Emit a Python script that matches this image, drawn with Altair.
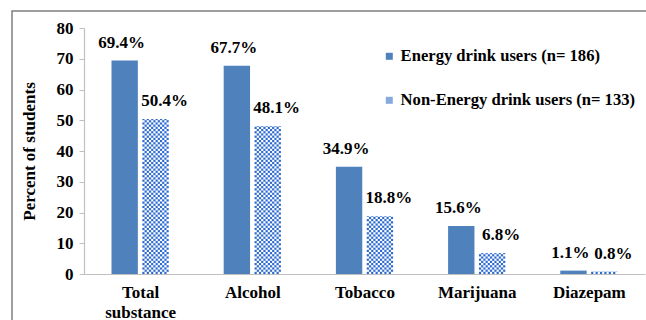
import math

import altair as alt
import pandas as pd

# ---- data -------------------------------------------------------------
categories = ["Total substance", "Alcohol", "Tobacco", "Marijuana", "Diazepam"]
energy_users = [69.4, 67.7, 34.9, 15.6, 1.1]
non_energy_users = [50.4, 48.1, 18.8, 6.8, 0.8]
series_names = ["Energy drink users (n= 186)", "Non-Energy drink users (n= 133)"]
y_ticks = [0, 10, 20, 30, 40, 50, 60, 70, 80]

# ---- layout / style ---------------------------------------------------
W, H = 561, 246
Y_MAX = 80
BLUE = "#4f81bd"
CHECK_BLUE = "#2c6ad0"
LEGEND_LIGHT = "#86a9e0"
AXIS_GREY = "#bfbfbf"
FONT = "Liberation Serif"
FS = 17
LEGEND_FS = 16.6

# each category occupies one unit on x; bar extents inside that unit
E_LO, E_HI = 0.245, 0.48
N_LO, N_HI = 0.52, 0.755
CHECK_COLS = 12

n = len(categories)

# ---- derived tables ---------------------------------------------------
energy_df = pd.DataFrame({
    "x0": [i + E_LO for i in range(n)],
    "x1": [i + E_HI for i in range(n)],
    "y0": [0.0] * n,
    "y1": energy_users,
})

# checkerboard cells for the non-energy bars
cell_w = (N_HI - N_LO) / CHECK_COLS
cell_px = cell_w * W / n
cell_h = cell_px * Y_MAX / H
cells = []
for i, v in enumerate(non_energy_users):
    rows = math.ceil(v / cell_h)
    for r in range(rows):
        for c in range(CHECK_COLS):
            if (r + c) % 2 == 0:
                cells.append({
                    "x0": i + N_LO + c * cell_w,
                    "x1": i + N_LO + (c + 1) * cell_w,
                    "y0": r * cell_h,
                    "y1": min((r + 1) * cell_h, v),
                })
cells_df = pd.DataFrame(cells)

energy_lbl = pd.DataFrame({
    "x0": [i + (E_LO + E_HI) / 2 for i in range(n)],
    "y1": energy_users,
    "txt": [f"{v:.1f}%" for v in energy_users],
})
non_lbl = pd.DataFrame({
    "x0": [i + (N_LO + N_HI) / 2 for i in range(n)],
    "y1": non_energy_users,
    "txt": [f"{v:.1f}%" for v in non_energy_users],
})

legend_df = pd.DataFrame({"series": series_names})

# x-axis labels: one (possibly multi-line) label per category slot
label_arrays = ",".join(
    "[" + ",".join(f"'{w}'" for w in name.split(" ")) + "]" for name in categories
)
label_expr = f"[{label_arrays}][floor(datum.value)]"


def x_enc(field="x0"):
    return alt.X(
        f"{field}:Q",
        scale=alt.Scale(domain=[0, n], nice=False, zero=False),
        axis=alt.Axis(
            values=[i + 0.5 for i in range(n)],
            labelExpr=label_expr,
            ticks=False,
            grid=False,
            title=None,
            domainColor=AXIS_GREY,
            domainWidth=1.2,
            labelFont=FONT,
            labelFontSize=FS,
            labelFontWeight="bold",
            labelColor="black",
            labelPadding=10,
            labelLineHeight=20,
            labelAngle=0,
        ),
    )


def y_enc(field="y0"):
    return alt.Y(
        f"{field}:Q",
        scale=alt.Scale(domain=[0, Y_MAX], nice=False),
        axis=alt.Axis(
            values=y_ticks,
            grid=False,
            title="Percent of students",
            titleFont=FONT,
            titleFontSize=FS,
            titleFontWeight="bold",
            titleColor="black",
            titlePadding=18,
            domainColor=AXIS_GREY,
            domainWidth=1.2,
            tickColor=AXIS_GREY,
            tickSize=5,
            labelFont=FONT,
            labelFontSize=FS,
            labelFontWeight="bold",
            labelColor="black",
            labelPadding=6,
        ),
    )


energy_bars = alt.Chart(energy_df).mark_rect(color=BLUE).encode(
    x=x_enc("x0"), x2="x1:Q", y=y_enc("y0"), y2="y1:Q"
)

checker = alt.Chart(cells_df).mark_rect(color=CHECK_BLUE).encode(
    x=x_enc("x0"), x2="x1:Q", y=y_enc("y0"), y2="y1:Q"
)

text_style = dict(
    font=FONT, fontSize=FS, fontWeight="bold", color="black",
    baseline="bottom", align="center", dy=-9,
)
energy_text = alt.Chart(energy_lbl).mark_text(dx=-3, **text_style).encode(
    x=x_enc("x0"), y=y_enc("y1"), text="txt:N"
)
non_text = alt.Chart(non_lbl).mark_text(dx=9, **text_style).encode(
    x=x_enc("x0"), y=y_enc("y1"), text="txt:N"
)

legend_layer = alt.Chart(legend_df).mark_point(
    shape="square", filled=True, size=0, opacity=1
).encode(
    color=alt.Color(
        "series:N",
        scale=alt.Scale(domain=series_names, range=[BLUE, LEGEND_LIGHT]),
        legend=alt.Legend(
            title=None,
            orient="none",
            legendX=297,
            legendY=20,
            symbolType="square",
            symbolSize=49,
            symbolStrokeWidth=0,
            symbolOpacity=1,
            labelFont=FONT,
            labelFontSize=LEGEND_FS,
            labelFontWeight="bold",
            labelColor="black",
            labelOffset=3,
            labelLimit=0,
            rowPadding=27,
        ),
    )
)

frame = alt.Chart(pd.DataFrame({"k": [0]})).mark_rect(
    fillOpacity=0, stroke="#7f7f7f", strokeWidth=1.5
).encode(
    x=alt.value(-72), x2=alt.value(700), y=alt.value(-17), y2=alt.value(400)
)

chart = (
    alt.layer(frame, energy_bars, checker, energy_text, non_text, legend_layer)
    .properties(
        width=W,
        height=H,
        autosize=alt.AutoSizeParams(type="none"),
        padding={"left": 84, "top": 28, "right": 1, "bottom": 46},
        background="white",
    )
    .configure_view(stroke=None)
)

chart.save("out.html", embed_options={"renderer": "svg", "actions": False})
